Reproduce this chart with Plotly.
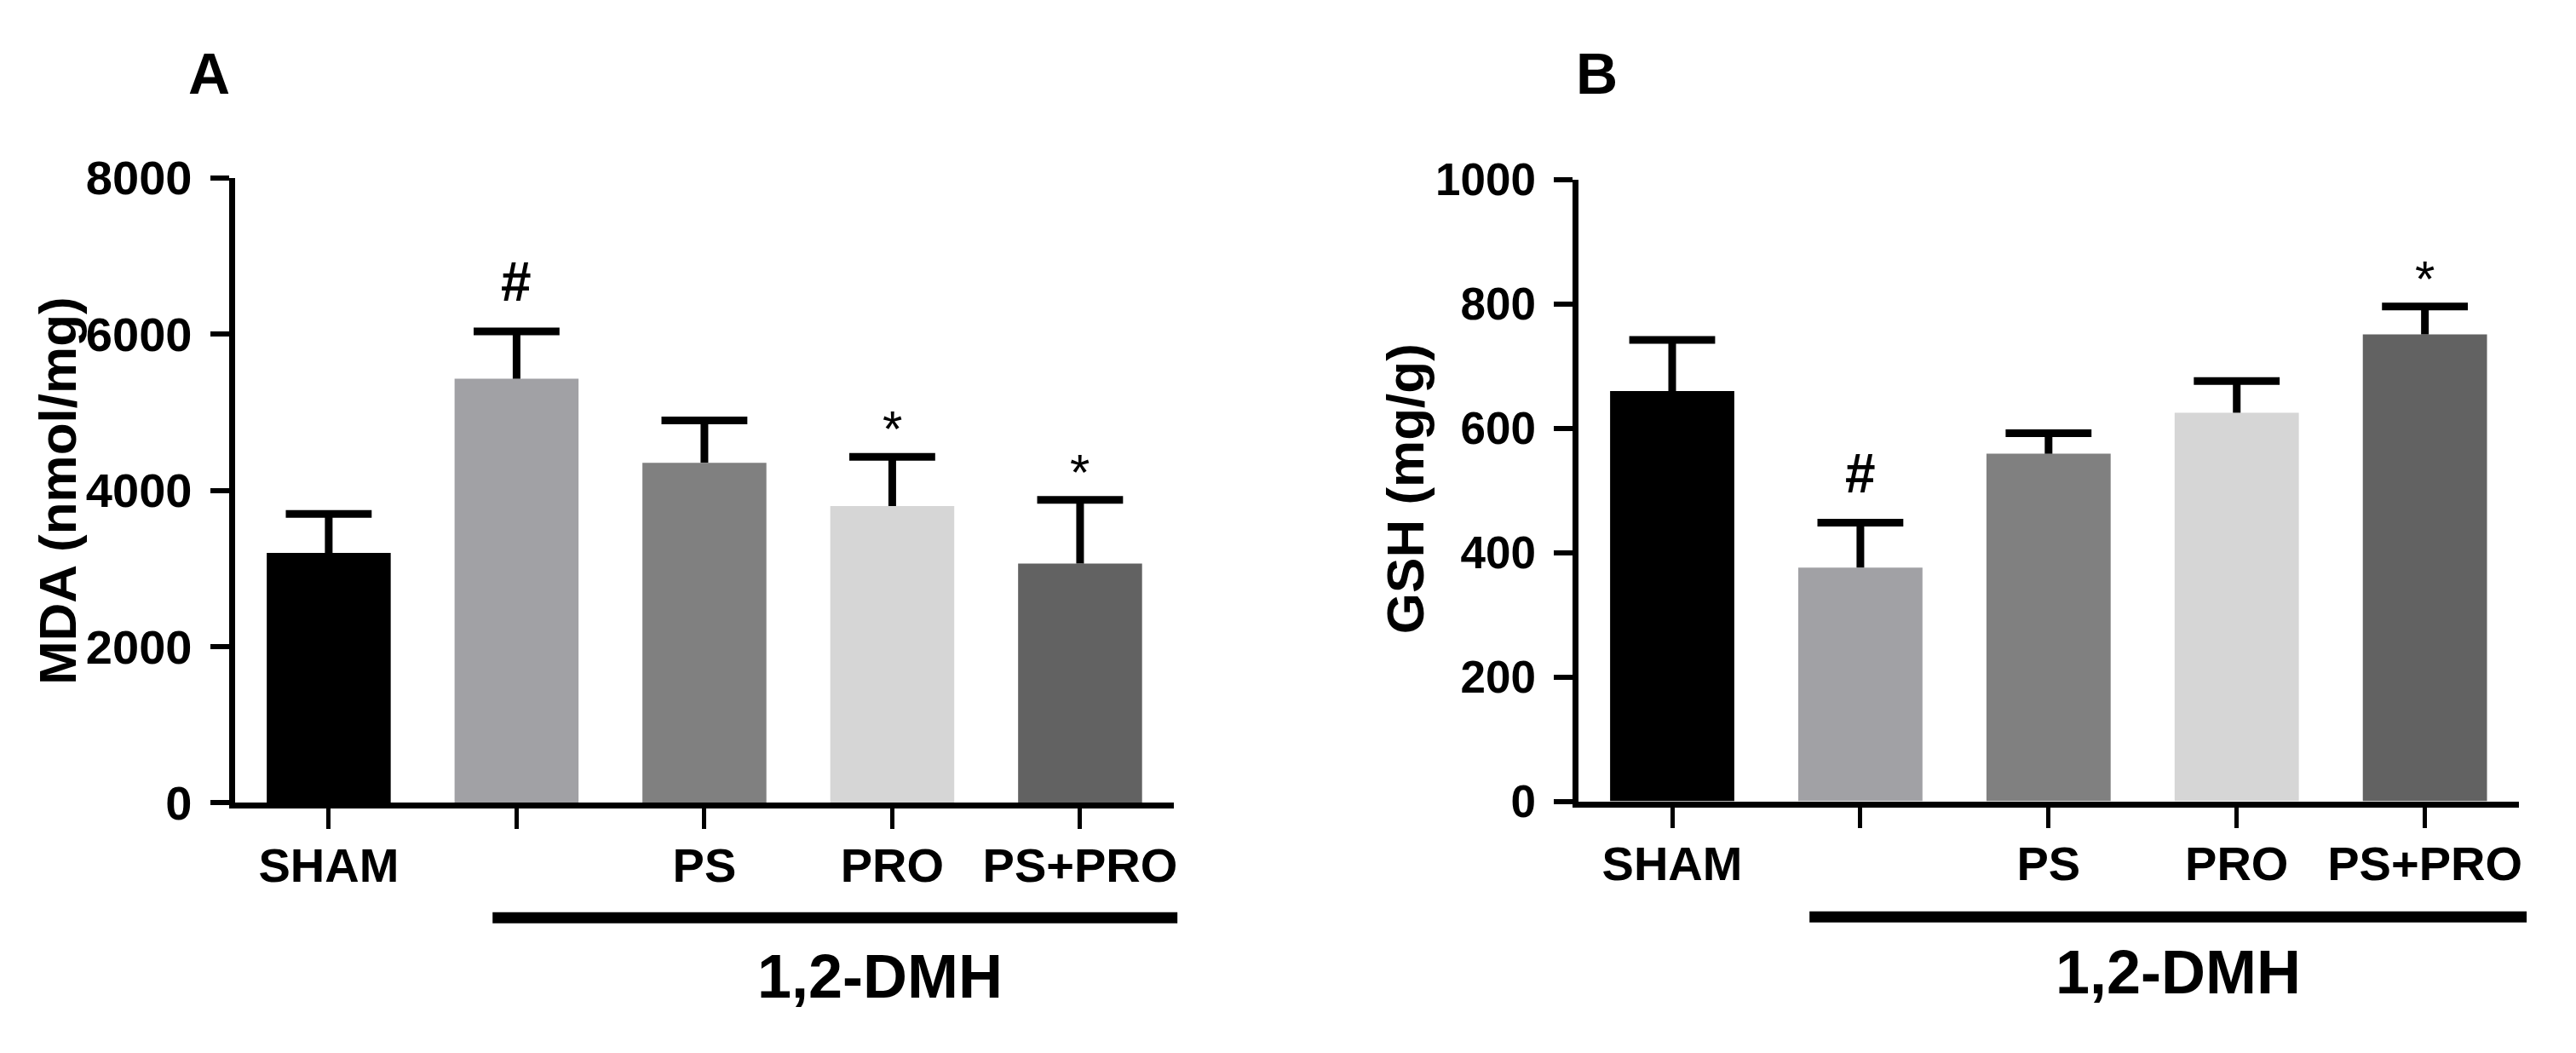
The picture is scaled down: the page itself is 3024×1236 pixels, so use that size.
import plotly.graph_objects as go

# groups (second group is the untreated 1,2-DMH group, drawn without a tick label)
groups = ["SHAM", "DMH", "PS", "PRO", "PS+PRO"]
tick_labels = ["SHAM", "", "PS", "PRO", "PS+PRO"]
bar_colors = ["#000000", "#a1a1a5", "#808080", "#d6d6d6", "#626262"]

# panel A - MDA (nmol/mg), mean and SD
mda_mean = [3200, 5430, 4355, 3800, 3065]
mda_sd = [500, 605, 540, 630, 815]
mda_marks = ["", "#", "", "*", "*"]

# panel B - GSH (mg/g)
gsh_mean = [660, 376, 559, 625, 751]
gsh_sd = [82, 72, 33, 51, 45]
gsh_marks = ["", "#", "", "", "*"]

FONT = "Liberation Sans, Arial, sans-serif"
W, H = 3024, 1236

fig = go.Figure()


def add_panel(fig, mean, sd, marks, xa, ya):
    tops = [m + s for m, s in zip(mean, sd)]
    fig.add_trace(go.Bar(
        x=groups, y=mean, width=0.66,
        marker=dict(color=bar_colors, line=dict(width=0)),
        error_y=dict(type="data", array=sd, arrayminus=[0] * len(sd), symmetric=False,
                     color="black", thickness=9, width=0),
        xaxis=xa, yaxis=ya, showlegend=False, hoverinfo="skip"))
    # caps on top of the SD whiskers only
    fig.add_trace(go.Scatter(
        x=groups, y=tops, mode="markers",
        marker=dict(symbol="line-ew", size=72, line=dict(width=9, color="black")),
        xaxis=xa, yaxis=ya, showlegend=False, hoverinfo="skip"))
    # significance marks: (yshift px, font size, weight)
    style = {"#": (20, 64, "bold"), "*": (-3, 60, "normal")}
    for g, t, m in zip(groups, tops, marks):
        if m:
            shift, size, weight = style[m]
            fig.add_annotation(x=g, y=t, xref=xa, yref=ya, text=m, showarrow=False,
                               xanchor="center", yanchor="bottom", yshift=shift,
                               font=dict(family=FONT, size=size, color="black", weight=weight))


add_panel(fig, mda_mean, mda_sd, mda_marks, "x", "y")
add_panel(fig, gsh_mean, gsh_sd, gsh_marks, "x2", "y2")

xcommon = dict(type="category", range=[-0.5, 4.5], tickvals=groups, ticktext=tick_labels,
               showline=True, linewidth=7, linecolor="black", ticks="outside",
               ticklen=24, tickwidth=5, tickcolor="black", showgrid=False, zeroline=False,
               ticklabelstandoff=-6,
               tickfont=dict(family=FONT, size=56, color="black", weight="bold"))
ycommon = dict(showline=True, linewidth=7, linecolor="black", ticks="outside",
               ticklen=22, tickwidth=6, tickcolor="black", showgrid=False, zeroline=False,
               ticklabelstandoff=10)

fig.update_layout(
    width=W, height=H, margin=dict(l=0, r=0, t=0, b=0),
    paper_bgcolor="white", plot_bgcolor="white",
    xaxis=dict(domain=[268 / W, 1372 / W], anchor="y", **xcommon),
    yaxis=dict(domain=[(H - 952) / H, (H - 179) / H], anchor="x", range=[0, 8000],
               tickvals=[0, 2000, 4000, 6000, 8000],
               tickfont=dict(family=FONT, size=56, color="black", weight="bold"), **ycommon),
    xaxis2=dict(domain=[1847 / W, 2953 / W], anchor="y2", **xcommon),
    yaxis2=dict(domain=[(H - 950) / H, (H - 181) / H], anchor="x2", range=[0, 1000],
                tickvals=[0, 200, 400, 600, 800, 1000],
                tickfont=dict(family=FONT, size=53, color="black", weight="bold"), **ycommon),
)


def bold(size):
    return dict(family=FONT, size=size, color="black", weight="bold")


def paper_text(xc, yc, text, size, angle=0):
    fig.add_annotation(x=xc / W, y=(H - yc) / H, xref="paper", yref="paper", text=text,
                       xanchor="center", yanchor="middle", textangle=angle,
                       showarrow=False, font=bold(size))


# panel letters
paper_text(238, 50, "A", 68)
paper_text(1869, 50, "B", 68)

# y axis titles
paper_text(59, 566, "MDA (nmol/mg)", 62, -90)
paper_text(1643, 563, "GSH (mg/g)", 62, -90)

# 1,2-DMH treatment bars under the groups
for x0, x1, yl, xc, yc in [(571, 1376, 1094, 1026, 1166), (2119, 2962, 1093, 2552, 1161)]:
    fig.add_shape(type="line", xref="paper", yref="paper", x0=x0 / W, x1=x1 / W,
                  y0=(H - yl) / H, y1=(H - yl) / H, line=dict(color="black", width=13))
    paper_text(xc, yc, "1,2-DMH", 72)

fig.write_html("out.html")
